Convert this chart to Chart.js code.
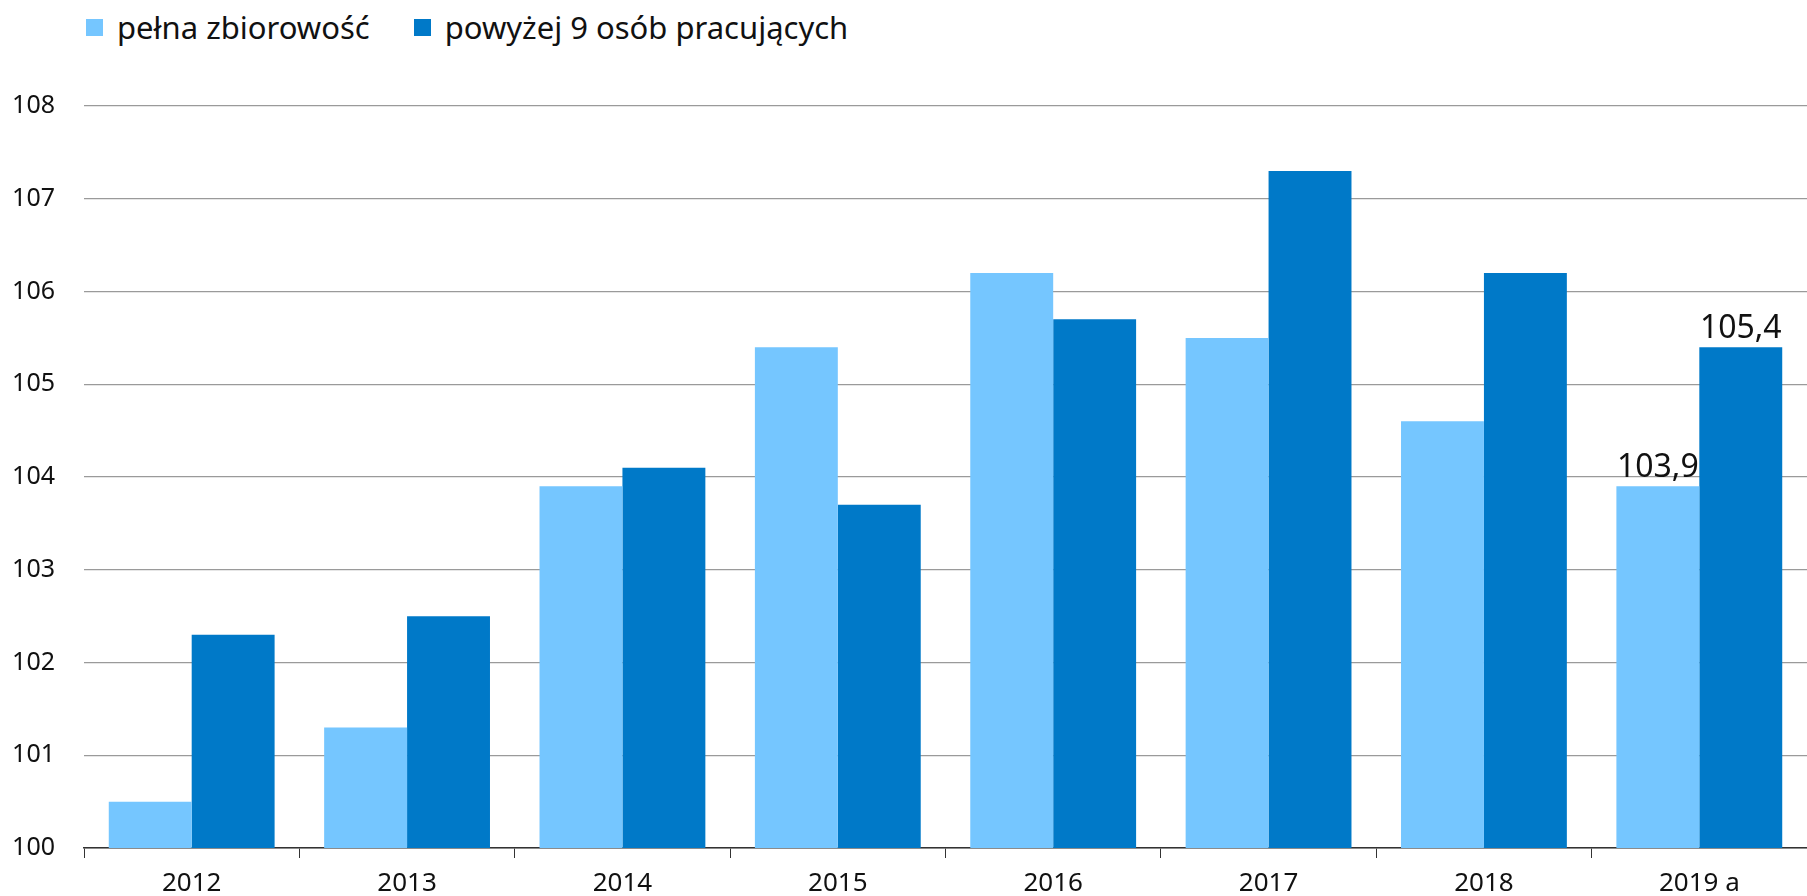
<!DOCTYPE html>
<html lang="pl">
<head>
<meta charset="utf-8">
<script src="https://cdn.jsdelivr.net/npm/chart.js@4/dist/chart.umd.min.js"></script>
<style>
  html, body { margin: 0; padding: 0; background: #fff; }
  body { width: 1807px; height: 896px; position: relative; overflow: hidden; font-family: "Noto Sans", sans-serif; }
  #legend { position: absolute; left: 86px; top: 6px; display: flex; align-items: center; font-size: 31px; color: #111; }
  #legend .item { display: flex; align-items: center; margin-right: 44px; }
  #legend .box { width: 17px; height: 17px; margin-right: 14px; }
  #wrap { position: absolute; left: 0; top: 0; width: 1807px; height: 896px; }
</style>
</head>
<body>
<div id="legend"></div>
<div id="wrap"><canvas id="chart"></canvas></div>
<script>
const categories = ['2012', '2013', '2014', '2015', '2016', '2017', '2018', '2019 a'];
const seriesNames = ['pełna zbiorowość', 'powyżej 9 osób pracujących'];
const fullValues = [100.5, 101.3, 103.9, 105.4, 106.2, 105.5, 104.6, 103.9];
const over9Values = [102.3, 102.5, 104.1, 103.7, 105.7, 107.3, 106.2, 105.4];
const yTicks = [100, 101, 102, 103, 104, 105, 106, 107, 108];
const colors = ['#75C6FF', '#0079C8'];
const labelIndex = categories.length - 1; // only the last year is labelled

document.getElementById('legend').innerHTML = seriesNames.map((n, i) => `
  <div class="item"><span class="box" style="background:${colors[i]}"></span>${n}</div>
`).join('');

const fmt = v => v.toFixed(1).replace('.', ',');

const lastLabels = {
  id: 'lastLabels',
  afterDatasetsDraw(chart) {
    const ctx = chart.ctx;
    ctx.save();
    ctx.font = '32px "Noto Sans", sans-serif';
    ctx.fillStyle = '#111';
    ctx.textAlign = 'center';
    ctx.textBaseline = 'bottom';
    chart.data.datasets.forEach((ds, i) => {
      const bar = chart.getDatasetMeta(i).data[labelIndex];
      ctx.fillText(fmt(ds.data[labelIndex]), bar.x, bar.y - 2);
    });
    ctx.restore();
  }
};

new Chart(document.getElementById('chart'), {
  type: 'bar',
  data: {
    labels: categories,
    datasets: [
      { label: seriesNames[0], data: fullValues, backgroundColor: colors[0] },
      { label: seriesNames[1], data: over9Values, backgroundColor: colors[1] },
    ],
  },
  options: {
    responsive: true,
    maintainAspectRatio: false,
    animation: false,
    layout: { padding: { top: 106, right: 0, left: 0, bottom: 0 } },
    plugins: { legend: { display: false }, tooltip: { enabled: false } },
    datasets: { bar: { barPercentage: 1, categoryPercentage: 0.77 } },
    scales: {
      x: {
        grid: { offset: true, drawOnChartArea: false, tickLength: 10, color: '#333' },
        border: { color: '#333', width: 1.5 },
        ticks: { color: '#111', font: { family: 'Noto Sans', size: 26 }, padding: 10 },
        afterFit: s => { s.height = 48; },
      },
      y: {
        min: 100,
        max: 108,
        afterBuildTicks: s => { s.ticks = yTicks.map(v => ({ value: v })); },
        grid: { color: '#9a9a9a', lineWidth: 1.2, drawTicks: false },
        border: { display: false },
        ticks: { color: '#111', font: { family: 'Noto Sans', size: 25 }, padding: 29 },
        afterFit: s => { s.width = 84; },
      },
    },
  },
  plugins: [lastLabels],
});
</script>
</body>
</html>
